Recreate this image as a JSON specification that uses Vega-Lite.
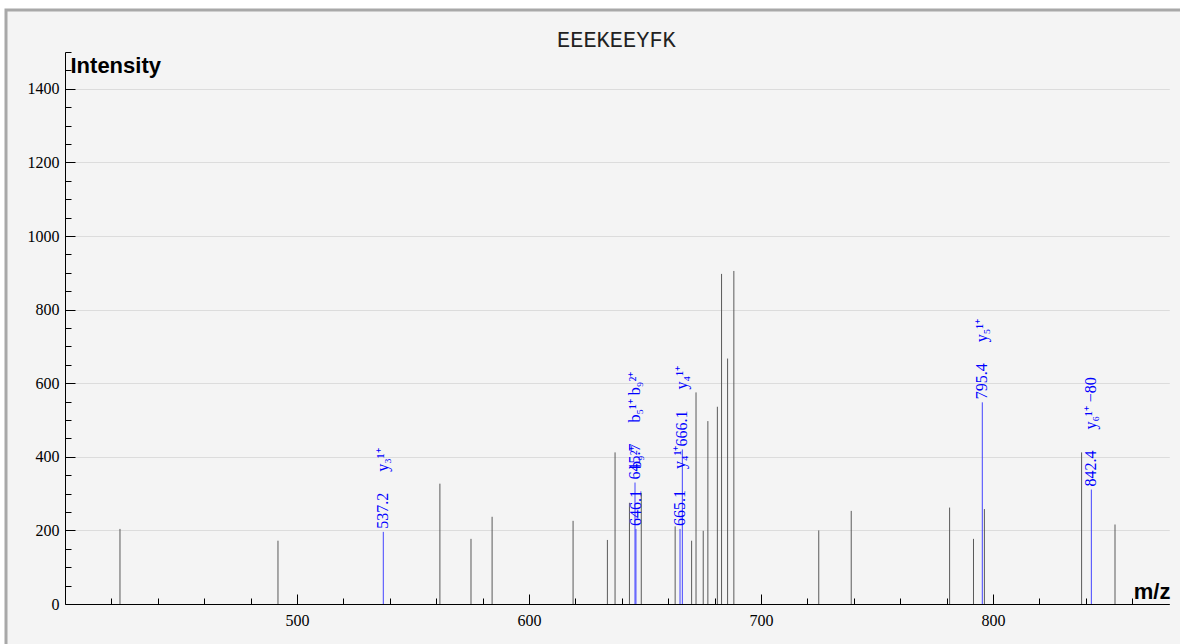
{
  "$schema": "https://vega.github.io/schema/vega-lite/v6.json",
  "width": 1174,
  "height": 634,
  "autosize": {"type": "none"},
  "padding": {"left": 6, "top": 10, "right": 0, "bottom": 0},
  "background": "white",
  "config": {"view": {"fill": "#f4f4f4", "stroke": "#a8a8a8", "strokeWidth": 3, "strokeDash": [1174, 1808, 634, 0], "strokeCap": "square"}},
  "title": {"text": "EEEKEEYFK", "font": "Courier New, Liberation Mono, monospace", "fontSize": 22, "fontWeight": "normal", "color": "#222222", "anchor": "start", "frame": "group", "offset": -59, "baseline": "alphabetic", "dx": 551},
  "data": {"values": [
    {"mz": 423.7, "intensity": 204, "matched": false, "label": "", "ion": ""},
    {"mz": 491.8, "intensity": 172, "matched": false, "label": "", "ion": ""},
    {"mz": 561.6, "intensity": 327, "matched": false, "label": "", "ion": ""},
    {"mz": 575.0, "intensity": 177, "matched": false, "label": "", "ion": ""},
    {"mz": 584.1, "intensity": 237, "matched": false, "label": "", "ion": ""},
    {"mz": 619.0, "intensity": 226, "matched": false, "label": "", "ion": ""},
    {"mz": 633.8, "intensity": 174, "matched": false, "label": "", "ion": ""},
    {"mz": 637.1, "intensity": 412, "matched": false, "label": "", "ion": ""},
    {"mz": 643.3, "intensity": 275, "matched": false, "label": "", "ion": ""},
    {"mz": 648.4, "intensity": 302, "matched": false, "label": "", "ion": ""},
    {"mz": 663.0, "intensity": 211, "matched": false, "label": "", "ion": ""},
    {"mz": 670.1, "intensity": 172, "matched": false, "label": "", "ion": ""},
    {"mz": 672.0, "intensity": 575, "matched": false, "label": "", "ion": ""},
    {"mz": 675.1, "intensity": 199, "matched": false, "label": "", "ion": ""},
    {"mz": 677.1, "intensity": 497, "matched": false, "label": "", "ion": ""},
    {"mz": 681.2, "intensity": 536, "matched": false, "label": "", "ion": ""},
    {"mz": 683.0, "intensity": 897, "matched": false, "label": "", "ion": ""},
    {"mz": 685.6, "intensity": 667, "matched": false, "label": "", "ion": ""},
    {"mz": 688.3, "intensity": 905, "matched": false, "label": "", "ion": ""},
    {"mz": 724.9, "intensity": 200, "matched": false, "label": "", "ion": ""},
    {"mz": 738.9, "intensity": 253, "matched": false, "label": "", "ion": ""},
    {"mz": 781.3, "intensity": 262, "matched": false, "label": "", "ion": ""},
    {"mz": 791.6, "intensity": 177, "matched": false, "label": "", "ion": ""},
    {"mz": 796.3, "intensity": 258, "matched": false, "label": "", "ion": ""},
    {"mz": 838.2, "intensity": 412, "matched": false, "label": "", "ion": ""},
    {"mz": 852.6, "intensity": 216, "matched": false, "label": "", "ion": ""},
    {"mz": 537.2, "intensity": 196, "matched": true, "label": "537.2", "ion": "y₃¹⁺"},
    {"mz": 645.7, "intensity": 330, "matched": true, "label": "645.7", "ion": "b₅¹⁺      b₉²⁺"},
    {"mz": 646.1, "intensity": 204, "matched": true, "label": "646.1", "ion": "b₉²⁺"},
    {"mz": 665.1, "intensity": 204, "matched": true, "label": "665.1", "ion": "y₄¹⁺"},
    {"mz": 666.1, "intensity": 420, "matched": true, "label": "666.1", "ion": "y₄¹⁺"},
    {"mz": 795.4, "intensity": 548, "matched": true, "label": "795.4", "ion": "y₅¹⁺"},
    {"mz": 842.4, "intensity": 311, "matched": true, "label": "842.4", "ion": "y₆¹⁺ −80"}
  ]},
  "resolve": {"axis": {"x": "independent", "y": "independent"}},
  "layer": [
    {
      "transform": [{"filter": "!datum.matched"}],
      "mark": {"type": "rule", "color": "#5a5a5a", "strokeWidth": 1},
      "encoding": {
        "x": {"field": "mz", "type": "quantitative",
          "scale": {"domain": [400, 876], "range": [59, 1163.3], "nice": false, "zero": false},
          "axis": {"orient": "bottom", "offset": -40, "values": [500, 600, 700, 800], "format": "d",
            "domain": true, "domainColor": "black", "domainWidth": 1,
            "ticks": true, "tickSize": -10, "tickColor": "black", "tickWidth": 1,
            "labelFont": "Liberation Serif", "labelFontSize": 16, "labelColor": "black", "labelPadding": 18,
            "grid": false,
            "title": "m/z", "titleFont": "Liberation Sans", "titleFontSize": 22, "titleFontWeight": "bold", "titleColor": "black",
            "titleX": 1164, "titleY": -6, "titleAlign": "right", "titleBaseline": "alphabetic", "titleAngle": 0}},
        "y": {"field": "intensity", "type": "quantitative",
          "scale": {"domain": [0, 1500], "range": [594, 42], "nice": false},
          "axis": {"orient": "left", "offset": -59, "values": [0, 200, 400, 600, 800, 1000, 1200, 1400], "format": "d",
            "domain": true, "domainColor": "black", "domainWidth": 1,
            "ticks": true, "tickSize": -10, "tickColor": "black", "tickWidth": 1,
            "labelFont": "Liberation Serif", "labelFontSize": 16, "labelColor": "black", "labelPadding": 16,
            "grid": true, "gridColor": "#dcdcdc", "gridWidth": 1,
            "title": "Intensity", "titleFont": "Liberation Sans", "titleFontSize": 22, "titleFontWeight": "bold", "titleColor": "black",
            "titleX": 5, "titleY": 62, "titleAlign": "left", "titleBaseline": "alphabetic", "titleAngle": 0}},
        "y2": {"datum": 0}
      }
    },
    {
      "transform": [{"filter": "datum.matched"}],
      "mark": {"type": "rule", "color": "#4444ff", "strokeWidth": 1},
      "encoding": {
        "x": {"field": "mz", "type": "quantitative",
          "axis": {"orient": "bottom", "offset": -40, "values": [420, 440, 460, 480, 520, 540, 560, 580, 620, 640, 660, 680, 720, 740, 760, 780, 820, 840, 860],
            "domain": false, "ticks": true, "tickSize": -6, "tickColor": "black", "tickWidth": 1,
            "labels": false, "grid": false, "title": null}},
        "y": {"field": "intensity", "type": "quantitative",
          "axis": {"orient": "left", "offset": -59, "values": [50, 100, 150, 250, 300, 350, 450, 500, 550, 650, 700, 750, 850, 900, 950, 1050, 1100, 1150, 1250, 1300, 1350, 1450, 1500],
            "domain": false, "ticks": true, "tickSize": -6, "tickColor": "black", "tickWidth": 1,
            "labels": false, "grid": false, "title": null}},
        "y2": {"datum": 0}
      }
    },
    {
      "transform": [{"filter": "datum.matched"}],
      "mark": {"type": "text", "angle": 270, "align": "left", "baseline": "middle", "dx": 3, "font": "Liberation Serif", "fontSize": 16, "color": "#0000ff"},
      "encoding": {
        "x": {"field": "mz", "type": "quantitative", "axis": null},
        "y": {"field": "intensity", "type": "quantitative", "axis": null},
        "text": {"field": "label"}
      }
    },
    {
      "transform": [{"filter": "datum.matched"}],
      "mark": {"type": "text", "angle": 270, "align": "left", "baseline": "middle", "dx": 60, "font": "Liberation Serif", "fontSize": 16, "color": "#0000ff"},
      "encoding": {
        "x": {"field": "mz", "type": "quantitative", "axis": null},
        "y": {"field": "intensity", "type": "quantitative", "axis": null},
        "text": {"field": "ion"}
      }
    }
  ]
}
